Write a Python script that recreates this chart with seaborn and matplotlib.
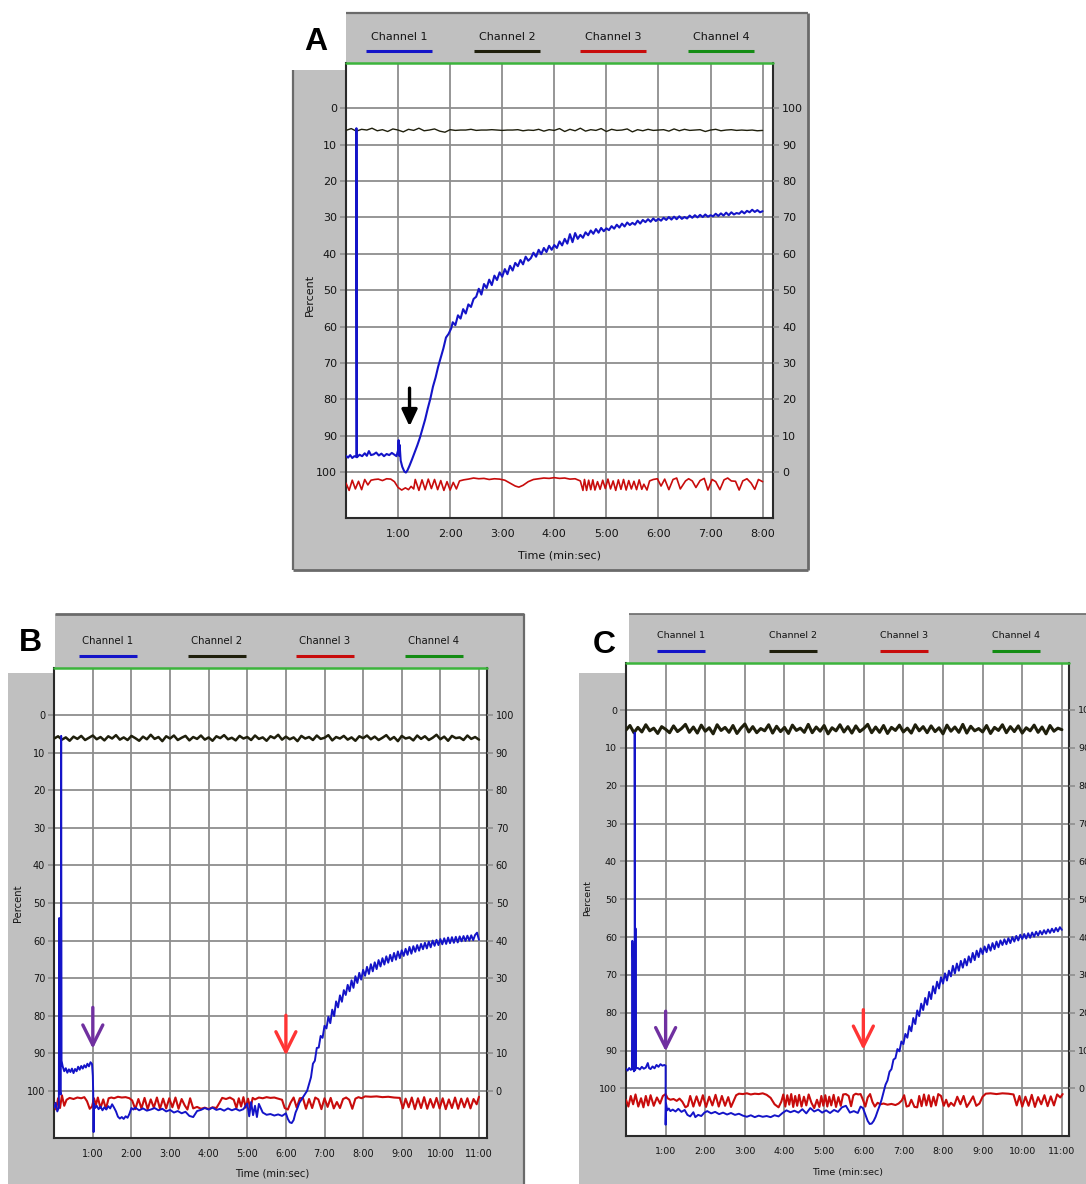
import numpy as np
import matplotlib
matplotlib.use("Agg")
import matplotlib.pyplot as plt
import seaborn as sns
from matplotlib.patches import Rectangle

# ---------------------------------------------------------------- data
CHANNELS = ["Channel 1", "Channel 2", "Channel 3", "Channel 4"]
PCT_TICKS = list(range(0, 101, 10))
Y_TOP, Y_BOTTOM = -12.5, 112.5

# ---- Panel A (8 min run)
A_ch1_start = [(0.00, 95.5), (0.04, 96.0), (0.08, 95.3), (0.12, 96.1), (0.16, 95.6), (0.20, 95.8),
               (0.20, 5.5), (0.21, 95.9), (0.26, 95.2), (0.31, 95.6), (0.36, 94.8), (0.40, 95.5),
               (0.44, 94.2), (0.48, 95.3), (0.53, 95.1), (0.58, 94.6), (0.63, 95.4), (0.68, 94.9),
               (0.73, 95.6), (0.78, 95.0), (0.83, 95.3), (0.88, 94.7), (0.93, 95.2), (0.97, 95.6),
               (1.00, 94.0), (1.01, 91.2), (1.02, 95.5), (1.03, 92.5), (1.05, 96.8), (1.08, 98.5),
               (1.12, 99.8), (1.15, 100.1), (1.18, 99.5), (1.22, 98.2), (1.27, 96.4), (1.32, 94.5),
               (1.37, 92.6), (1.42, 90.5), (1.47, 88.0), (1.52, 85.5), (1.57, 82.5), (1.62, 79.8),
               (1.67, 76.5), (1.72, 74.0), (1.77, 71.0), (1.82, 68.5), (1.87, 66.0), (1.92, 63.0),
               (1.97, 62.0), (2.02, 60.5)]
A_ch1_rise_start, A_ch1_rise_step = 2.05, 0.05
A_ch1_rise = [58.8, 59.6, 56.9, 57.8, 55.2, 56.4, 53.9, 54.6, 52.4, 51.8,
              49.6, 51.2, 48.3, 49.4, 47.1, 48.6, 46.0, 47.2, 45.1, 46.3,
              44.2, 45.6, 43.3, 44.6, 42.5, 43.4, 41.7, 42.9, 40.8, 41.9,
              41.2, 39.7, 40.8, 38.9, 40.1, 38.4, 39.5, 37.8, 38.9, 37.6,
              38.4, 36.6, 37.7, 35.9, 37.2, 34.6, 36.8, 34.3, 35.9, 34.8,
              35.6, 34.1, 34.9, 33.6, 34.5, 33.2, 34.2, 32.9, 33.8, 33.0,
              33.5, 32.4, 33.1, 32.0, 32.8, 31.7, 32.5, 31.4, 32.1, 31.5,
              32.0, 30.9, 31.7, 30.7, 31.3, 30.5, 31.2, 30.3, 31.0, 30.4,
              30.9, 30.1, 30.7, 29.9, 30.6, 29.8, 30.5, 29.7, 30.4, 29.9,
              30.3, 29.5, 30.1, 29.4, 30.0, 29.3, 29.9, 29.2, 29.8, 29.4,
              29.7, 29.0, 29.6, 28.9, 29.5, 28.7, 29.4, 28.6, 29.2, 28.8,
              29.0, 28.3, 28.9, 28.2, 28.6, 27.9, 28.5, 28.0, 28.6, 28.3]
A_ch2_step = 0.1
A_ch2 = [6.1, 5.6, 6.3, 5.8, 6.0, 5.5, 6.2, 5.9, 6.4, 5.7,
         6.0, 6.5, 5.8, 6.1, 5.5, 6.2, 6.0, 5.7, 6.3, 6.6,
         5.9, 6.1, 6.0, 6.0, 5.8, 6.1, 6.0, 6.0, 5.9, 6.0,
         6.1, 6.0, 6.0, 5.9, 6.2, 6.0, 6.1, 5.8, 6.3, 5.9,
         6.1, 5.6, 6.4, 5.8, 6.2, 5.5, 6.3, 5.9, 6.1, 5.6,
         6.4, 5.8, 6.1, 6.0, 5.7, 6.5, 5.9, 6.2, 5.8, 6.1,
         6.0, 5.9, 6.3, 5.7, 6.2, 5.8, 6.1, 6.0, 5.9, 6.4,
         6.0, 5.8, 6.2, 6.0, 5.9, 6.1, 6.0, 6.1, 6.0, 6.2, 6.1]
A_ch3 = [(0.00, 103.0), (0.06, 105.0), (0.12, 102.2), (0.18, 104.6), (0.24, 102.5), (0.30, 104.8),
         (0.36, 102.0), (0.42, 103.5), (0.48, 102.2), (0.55, 102.0), (0.62, 101.9), (0.70, 102.3),
         (0.78, 101.8), (0.86, 101.9), (0.93, 102.6), (1.00, 104.2), (1.07, 104.9), (1.14, 104.3),
         (1.20, 104.8), (1.25, 103.9), (1.30, 104.6), (1.33, 102.0), (1.40, 105.0), (1.46, 102.1),
         (1.52, 104.8), (1.58, 101.9), (1.64, 104.5), (1.70, 102.0), (1.76, 104.8), (1.82, 102.3),
         (1.88, 105.0), (1.94, 102.6), (2.00, 104.9), (2.06, 102.8), (2.12, 104.6), (2.18, 102.4),
         (2.26, 102.1), (2.35, 101.9), (2.45, 101.6), (2.55, 101.8), (2.65, 101.7), (2.75, 102.0),
         (2.85, 101.8), (2.95, 101.9), (3.05, 102.2), (3.15, 103.0), (3.25, 103.8), (3.32, 104.1),
         (3.40, 103.6), (3.50, 102.6), (3.60, 102.0), (3.70, 101.8), (3.80, 101.6), (3.90, 101.7),
         (4.00, 101.5), (4.10, 101.7), (4.20, 101.6), (4.30, 101.9), (4.40, 101.8), (4.50, 102.4),
         (4.55, 105.0), (4.58, 102.0), (4.62, 105.0), (4.66, 102.2), (4.70, 104.8), (4.74, 102.1),
         (4.78, 104.9), (4.83, 102.6), (4.88, 104.7), (4.93, 102.2), (4.98, 104.5), (5.03, 101.9),
         (5.08, 104.6), (5.13, 102.4), (5.18, 105.0), (5.23, 102.1), (5.28, 104.7), (5.33, 102.0),
         (5.38, 104.9), (5.43, 102.3), (5.48, 104.6), (5.53, 102.5), (5.58, 104.8), (5.63, 102.1),
         (5.68, 104.7), (5.72, 103.3), (5.78, 104.9), (5.83, 102.4), (5.90, 102.0), (5.98, 101.8),
         (6.05, 103.8), (6.12, 101.9), (6.20, 104.8), (6.28, 102.0), (6.35, 101.6), (6.42, 104.6),
         (6.52, 102.4), (6.58, 101.8), (6.65, 102.4), (6.72, 104.2), (6.80, 102.3), (6.88, 101.7),
         (6.95, 104.9), (7.03, 102.0), (7.10, 102.6), (7.18, 104.8), (7.26, 102.1), (7.33, 101.6),
         (7.40, 102.4), (7.48, 102.5), (7.55, 104.9), (7.62, 102.4), (7.70, 101.8), (7.78, 103.0),
         (7.85, 104.7), (7.92, 102.0), (8.00, 102.6)]

# ---- Panel B (11 min run)
B_ch1_start = [(0.00, 104.5), (0.04, 103.2), (0.08, 105.5), (0.12, 104.5), (0.13, 54.0), (0.14, 100.0),
               (0.17, 101.0), (0.18, 5.5), (0.19, 92.0), (0.22, 93.5), (0.26, 94.8), (0.30, 94.0),
               (0.34, 95.2), (0.38, 94.3), (0.42, 95.0), (0.46, 94.1), (0.50, 95.3), (0.54, 94.2),
               (0.58, 94.8), (0.62, 93.6), (0.66, 94.4), (0.70, 93.4), (0.74, 94.1), (0.78, 93.2),
               (0.82, 93.8), (0.86, 92.8), (0.90, 93.5), (0.94, 92.4), (0.98, 92.9), (1.00, 96.0),
               (1.01, 100.5), (1.02, 111.0), (1.03, 103.5), (1.06, 104.6), (1.10, 104.0), (1.15, 104.9),
               (1.20, 104.2), (1.25, 105.2), (1.30, 104.4), (1.35, 105.0), (1.40, 104.1), (1.45, 104.7),
               (1.50, 103.6), (1.55, 104.5), (1.60, 105.5), (1.65, 106.9), (1.70, 107.4), (1.75, 107.0),
               (1.80, 107.5), (1.85, 106.8), (1.90, 107.2), (1.95, 106.1), (2.00, 104.6), (2.05, 105.0),
               (2.10, 104.5), (2.20, 105.2), (2.30, 104.7), (2.40, 105.3), (2.50, 105.0), (2.60, 104.6),
               (2.70, 105.2), (2.80, 104.8), (2.90, 105.5), (3.00, 105.1), (3.10, 105.8), (3.20, 105.4),
               (3.30, 106.0), (3.40, 105.6), (3.50, 106.7), (3.60, 107.0), (3.70, 105.4), (3.80, 105.1),
               (3.90, 104.6), (4.00, 105.0), (4.10, 104.5), (4.20, 105.1), (4.30, 104.8), (4.40, 105.3),
               (4.50, 104.7), (4.60, 105.2), (4.70, 104.8), (4.80, 105.3), (4.90, 104.9), (5.00, 103.4),
               (5.05, 106.8), (5.10, 103.0), (5.15, 106.5), (5.20, 104.0), (5.25, 107.0), (5.30, 103.5),
               (5.40, 105.8), (5.50, 106.4), (5.60, 106.2), (5.70, 106.6), (5.80, 106.3), (5.90, 106.7),
               (6.00, 106.0), (6.05, 107.5), (6.10, 108.4), (6.15, 108.6), (6.20, 107.8), (6.25, 105.8),
               (6.30, 104.6), (6.35, 103.2), (6.40, 102.4), (6.45, 101.6), (6.50, 100.8), (6.55, 100.0)]
B_ch1_rise_start, B_ch1_rise_step = 6.60, 0.05
B_ch1_rise = [98.2, 96.4, 92.8, 92.0, 88.6, 88.5, 85.4, 85.9, 82.7, 83.4,
              80.3, 82.0, 78.4, 80.1, 76.2, 77.8, 74.6, 76.3, 73.2, 74.5,
              71.8, 73.5, 70.6, 72.6, 69.5, 71.3, 68.6, 70.4, 67.8, 69.4,
              67.0, 68.9, 66.3, 68.2, 65.8, 67.6, 65.2, 66.9, 64.7, 66.4,
              64.2, 65.9, 63.8, 65.5, 63.3, 65.1, 62.9, 64.7, 62.6, 64.1,
              62.2, 63.8, 61.7, 63.5, 61.5, 63.0, 61.2, 62.7, 60.9, 62.3,
              60.6, 62.1, 60.3, 61.8, 60.0, 61.4, 59.8, 61.2, 59.6, 61.0,
              59.4, 60.9, 59.2, 60.7, 59.1, 60.6, 59.0, 60.5, 58.9, 60.2,
              58.8, 60.1, 58.7, 60.0, 58.6, 59.9, 58.5, 57.9, 59.8]
B_ch2_step = 0.1
B_ch2 = [6.2, 5.6, 6.5, 5.9, 6.8, 5.7, 6.3, 5.5, 6.6, 6.0,
         5.4, 6.4, 5.8, 6.7, 5.6, 6.2, 5.3, 6.5, 5.9, 6.6,
         5.5, 6.1, 6.8, 5.7, 6.4, 5.2, 6.3, 5.8, 6.9, 5.6,
         6.2, 5.4, 6.6, 6.0, 5.5, 6.7, 5.8, 6.3, 5.4, 6.5,
         5.9, 6.8, 5.6, 6.1, 5.3, 6.4, 6.0, 6.7, 5.5, 6.2,
         5.8, 6.6, 5.4, 6.3, 5.9, 6.8, 5.6, 6.1, 5.2, 6.5,
         5.7, 6.4, 5.9, 6.9, 5.5, 6.2, 5.8, 6.6, 5.4, 6.3,
         6.0, 5.3, 6.7, 5.8, 6.2, 5.5, 6.5, 5.9, 6.8, 5.6,
         6.1, 5.4, 6.4, 5.7, 6.6, 6.0, 5.3, 6.5, 5.8, 6.9,
         5.5, 6.2, 5.9, 6.7, 5.4, 6.3, 5.6, 6.6, 6.0, 5.2,
         6.4, 5.7, 6.8, 5.5, 6.1, 5.9, 6.6, 5.4, 6.3, 5.8, 6.5]
B_ch3 = [(0.00, 103.5), (0.05, 105.0), (0.10, 102.0), (0.15, 104.6), (0.20, 101.2), (0.26, 104.0),
         (0.32, 102.4), (0.40, 101.9), (0.50, 102.2), (0.60, 101.8), (0.70, 102.0), (0.78, 101.7),
         (0.85, 102.8), (0.92, 104.8), (0.98, 104.2), (1.03, 102.0), (1.08, 103.8), (1.13, 101.8),
         (1.20, 104.6), (1.27, 102.3), (1.34, 104.8), (1.41, 102.0), (1.48, 101.8), (1.55, 102.0),
         (1.65, 101.6), (1.75, 101.8), (1.85, 101.7), (1.95, 102.0), (2.02, 102.6), (2.10, 104.9),
         (2.18, 102.2), (2.26, 104.7), (2.34, 101.9), (2.42, 104.9), (2.50, 102.3), (2.58, 104.5),
         (2.66, 101.8), (2.74, 104.8), (2.82, 102.1), (2.90, 104.7), (2.98, 102.0), (3.06, 104.4),
         (3.14, 101.8), (3.22, 104.8), (3.30, 102.2), (3.38, 103.9), (3.45, 105.0), (3.52, 102.0),
         (3.60, 104.7), (3.70, 104.3), (3.80, 104.8), (3.90, 104.5), (4.00, 104.9), (4.10, 104.4),
         (4.20, 104.6), (4.28, 103.2), (4.35, 101.9), (4.45, 102.2), (4.55, 101.8), (4.65, 102.4),
         (4.72, 104.6), (4.78, 102.0), (4.84, 104.2), (4.90, 101.7), (4.96, 104.5), (5.02, 102.1),
         (5.08, 104.8), (5.14, 101.9), (5.20, 102.3), (5.30, 101.8), (5.40, 102.0), (5.50, 101.7),
         (5.60, 101.9), (5.70, 101.8), (5.80, 102.1), (5.90, 102.4), (5.97, 104.6), (6.05, 105.0),
         (6.12, 103.2), (6.20, 101.8), (6.28, 104.5), (6.36, 102.0), (6.44, 101.9), (6.52, 104.8),
         (6.60, 102.2), (6.68, 104.6), (6.76, 101.8), (6.84, 102.3), (6.92, 104.9), (7.00, 102.0),
         (7.08, 104.3), (7.16, 101.9), (7.24, 104.7), (7.32, 103.0), (7.40, 104.6), (7.48, 102.2),
         (7.56, 101.8), (7.64, 102.4), (7.72, 104.8), (7.80, 102.1), (7.88, 101.7), (7.96, 102.0),
         (8.05, 101.5), (8.20, 101.6), (8.35, 101.5), (8.50, 101.7), (8.65, 101.6), (8.80, 101.8),
         (8.95, 101.9), (9.03, 104.7), (9.10, 102.1), (9.18, 104.4), (9.26, 101.8), (9.34, 104.9),
         (9.42, 102.0), (9.50, 104.6), (9.58, 101.7), (9.66, 104.8), (9.74, 102.2), (9.82, 104.5),
         (9.90, 101.9), (9.98, 104.7), (10.06, 102.0), (10.14, 104.9), (10.22, 102.3), (10.30, 104.6),
         (10.38, 101.8), (10.46, 104.8), (10.54, 102.1), (10.62, 104.4), (10.70, 102.0), (10.78, 104.7),
         (10.86, 102.2), (10.94, 103.6), (11.00, 101.6)]

# ---- Panel C (11 min run)
C_ch1_start = [(0.00, 94.8), (0.04, 95.3), (0.08, 94.6), (0.12, 95.1), (0.15, 94.9), (0.16, 61.0),
               (0.17, 66.0), (0.18, 95.0), (0.19, 62.0), (0.20, 95.5), (0.22, 95.0), (0.22, 6.0),
               (0.23, 95.2), (0.24, 57.7), (0.25, 94.7), (0.30, 94.6), (0.35, 95.0), (0.40, 94.3),
               (0.45, 94.8), (0.50, 94.5), (0.55, 93.3), (0.58, 94.6), (0.62, 94.9), (0.67, 94.2),
               (0.72, 94.7), (0.77, 93.8), (0.82, 94.3), (0.87, 93.6), (0.92, 94.0), (0.97, 93.8),
               (1.00, 94.0), (1.00, 109.6), (1.01, 104.0), (1.04, 105.8), (1.08, 105.3), (1.12, 106.0),
               (1.18, 105.6), (1.25, 106.1), (1.32, 105.4), (1.40, 106.2), (1.48, 105.7), (1.55, 107.0),
               (1.62, 107.4), (1.70, 106.3), (1.75, 107.6), (1.82, 107.0), (1.90, 107.3), (1.98, 106.4),
               (2.05, 106.0), (2.15, 106.6), (2.25, 106.2), (2.35, 106.8), (2.45, 106.4), (2.55, 106.9),
               (2.65, 106.5), (2.75, 107.0), (2.85, 106.7), (2.95, 107.2), (3.05, 107.5), (3.15, 107.1),
               (3.25, 107.6), (3.35, 107.2), (3.45, 107.5), (3.55, 107.3), (3.65, 107.6), (3.75, 107.1),
               (3.85, 107.4), (3.95, 106.5), (4.05, 105.8), (4.15, 106.3), (4.25, 105.9), (4.35, 106.4),
               (4.45, 105.5), (4.55, 106.6), (4.65, 105.2), (4.75, 106.1), (4.85, 105.6), (4.95, 106.4),
               (5.05, 105.8), (5.15, 106.5), (5.25, 105.7), (5.35, 106.2), (5.45, 105.0), (5.55, 104.6),
               (5.65, 106.4), (5.75, 106.0), (5.85, 106.5), (5.92, 104.8), (5.98, 105.2), (6.05, 107.2),
               (6.10, 108.6), (6.15, 109.4), (6.20, 109.3), (6.25, 108.6), (6.30, 107.5), (6.35, 106.0),
               (6.40, 104.6), (6.45, 103.0), (6.50, 101.0)]
C_ch1_rise_start, C_ch1_rise_step = 6.55, 0.05
C_ch1_rise = [99.0, 97.9, 95.6, 94.9, 92.4, 92.0, 89.6, 90.2, 87.6, 88.3,
              85.6, 86.6, 83.5, 84.9, 81.4, 83.0, 79.4, 80.9, 77.6, 79.3,
              76.1, 77.9, 74.5, 76.4, 73.0, 74.9, 71.8, 73.6, 70.6, 72.3,
              69.6, 71.5, 68.9, 70.4, 67.6, 69.6, 67.0, 68.9, 66.3, 68.1,
              65.8, 67.5, 65.1, 66.7, 64.2, 66.1, 63.6, 65.3, 63.0, 64.5,
              62.5, 64.0, 62.0, 63.6, 61.6, 63.2, 61.2, 62.7, 60.9, 62.1,
              60.6, 61.9, 60.3, 61.6, 60.0, 61.2, 59.7, 60.9, 59.4, 60.5,
              59.2, 60.4, 59.0, 60.2, 58.8, 59.9, 58.6, 59.6, 58.4, 59.3,
              58.2, 59.1, 58.0, 58.9, 57.8, 58.7, 57.6, 58.5, 57.4, 58.1]
C_ch2_step = 0.1
C_ch2 = [5.3, 4.1, 6.0, 4.6, 5.8, 3.9, 5.5, 4.8, 6.2, 4.4,
         5.1, 6.0, 4.2, 5.7, 4.9, 3.8, 5.9, 4.5, 6.1, 4.0,
         5.6, 4.7, 6.3, 3.9, 5.4, 4.6, 5.9, 4.1, 6.2, 4.8,
         3.7, 5.8, 4.4, 6.0, 4.9, 5.5, 3.9, 6.1, 4.3, 5.7,
         4.6, 6.2, 4.0, 5.4, 4.8, 5.9, 3.8, 6.0, 4.5, 5.6,
         4.1, 6.3, 4.7, 5.5, 3.9, 5.8, 4.4, 6.1, 4.2, 5.7,
         4.9, 3.8, 6.0, 4.5, 5.9, 4.1, 6.2, 4.6, 5.4, 4.0,
         5.8, 4.8, 6.1, 3.9, 5.5, 4.4, 6.0, 4.2, 5.7, 4.7,
         6.3, 4.0, 5.6, 4.5, 5.9, 3.8, 6.1, 4.3, 5.5, 4.9,
         5.8, 4.1, 6.2, 4.6, 5.4, 3.9, 6.0, 4.4, 5.7, 4.2,
         6.1, 4.7, 5.5, 4.0, 5.9, 4.5, 6.3, 4.1, 5.6, 4.8, 5.2]
C_ch3 = [(0.00, 103.0), (0.06, 104.8), (0.12, 102.0), (0.18, 104.2), (0.24, 101.6), (0.31, 104.8),
         (0.38, 102.6), (0.44, 105.0), (0.50, 102.0), (0.56, 104.5), (0.62, 101.8), (0.70, 104.6),
         (0.78, 102.4), (0.86, 104.0), (0.93, 102.0), (1.00, 101.5), (1.05, 102.6), (1.12, 103.0),
         (1.20, 102.8), (1.28, 103.3), (1.35, 102.7), (1.42, 103.5), (1.50, 105.0), (1.56, 104.6),
         (1.62, 102.0), (1.70, 104.8), (1.78, 102.1), (1.86, 104.6), (1.94, 101.8), (2.02, 104.9),
         (2.10, 102.2), (2.18, 104.5), (2.26, 101.7), (2.34, 104.8), (2.42, 102.0), (2.50, 104.6),
         (2.58, 102.3), (2.65, 104.9), (2.72, 103.2), (2.78, 101.8), (2.85, 101.4), (2.95, 101.5),
         (3.05, 101.3), (3.15, 101.6), (3.25, 101.4), (3.35, 101.5), (3.45, 101.3), (3.55, 101.7),
         (3.65, 102.5), (3.75, 104.2), (3.85, 105.0), (3.92, 103.5), (3.97, 101.6), (4.02, 104.8),
         (4.07, 101.8), (4.12, 104.3), (4.17, 101.5), (4.22, 104.9), (4.27, 102.0), (4.32, 104.6),
         (4.37, 101.7), (4.43, 104.8), (4.49, 102.2), (4.55, 104.5), (4.61, 101.6), (4.68, 103.8),
         (4.75, 105.2), (4.82, 103.0), (4.88, 104.9), (4.93, 102.0), (4.98, 104.6), (5.03, 101.8),
         (5.08, 104.8), (5.13, 102.2), (5.18, 104.5), (5.24, 101.7), (5.30, 104.9), (5.36, 102.3),
         (5.42, 104.6), (5.48, 101.6), (5.55, 101.5), (5.62, 102.0), (5.68, 104.7), (5.74, 101.8),
         (5.80, 101.4), (5.86, 101.6), (5.92, 101.5), (5.98, 103.0), (6.04, 104.8), (6.10, 102.4),
         (6.16, 101.5), (6.22, 103.6), (6.28, 104.8), (6.35, 103.8), (6.42, 104.2), (6.50, 104.0),
         (6.60, 104.3), (6.70, 104.1), (6.80, 104.4), (6.88, 104.0), (6.96, 103.2), (7.02, 101.8),
         (7.08, 104.8), (7.14, 104.6), (7.20, 103.0), (7.28, 104.9), (7.35, 105.0), (7.40, 102.0),
         (7.46, 104.7), (7.52, 101.6), (7.58, 104.5), (7.64, 101.8), (7.70, 104.8), (7.76, 102.2),
         (7.82, 104.5), (7.88, 101.5), (7.95, 102.0), (8.02, 104.6), (8.08, 103.0), (8.14, 104.8),
         (8.20, 103.8), (8.28, 104.6), (8.36, 102.2), (8.44, 104.2), (8.52, 102.0), (8.60, 104.9),
         (8.68, 103.6), (8.76, 102.1), (8.84, 104.6), (8.92, 104.0), (9.00, 102.2), (9.08, 101.4),
         (9.20, 101.3), (9.35, 101.5), (9.50, 101.3), (9.65, 101.4), (9.78, 101.6), (9.86, 104.5),
         (9.93, 102.0), (10.00, 104.8), (10.08, 102.2), (10.16, 104.6), (10.24, 101.7), (10.32, 104.9),
         (10.40, 102.3), (10.48, 104.2), (10.56, 101.8), (10.64, 104.7), (10.72, 102.1), (10.80, 104.5),
         (10.88, 101.6), (10.96, 102.4), (11.02, 101.5)]

# Event markers: (time, tail value, tip value)
A_marker = (1.22, 76.9, 87.4)
B_markers = [(1.00, 77.8, 88.8, "purple"), (6.00, 79.9, 90.6, "red")]
C_markers = [(1.00, 79.6, 90.2, "purple"), (5.99, 79.2, 89.8, "red")]

# ---------------------------------------------------------------- style
BLUE, BLACK, RED, GREEN = "#1414c8", "#1f1f0c", "#c80c0c", "#148c14"
TOP_GREEN = "#3cb43c"
PANEL_GRAY, BORDER = "#c0c0c0", "#6a6a6a"
GRID, SPINE, TXT = "#8e8e8e", "#2a2a2a", "#141414"
MARK_COLORS = {"purple": "#7030a0", "red": "#ff3434"}

sns.set_style("white")
plt.rcParams["font.family"] = ["DejaVu Sans"]

W, H = 1086, 1184
fig = plt.figure(figsize=(W / 100, H / 100), dpi=100)
fig.patch.set_facecolor("white")

bg = fig.add_axes([0, 0, 1, 1], zorder=0)
bg.set_xlim(0, W)
bg.set_ylim(H, 0)
bg.axis("off")


def gray_box(x0, y0, x1, y1):
    bg.add_patch(Rectangle((x0, y0), x1 - x0, y1 - y0, facecolor=PANEL_GRAY,
                           edgecolor="none", zorder=1))


def border(xs, ys, lw=1.6):
    bg.plot(xs, ys, color=BORDER, lw=lw, zorder=2, solid_capstyle="butt")


def series(pairs):
    t = np.array([p[0] for p in pairs])
    v = np.array([p[1] for p in pairs])
    return t, v


def uniform(values, start, step):
    v = np.array(values)
    return start + step * np.arange(len(v)), v


def draw_trace(ax, t, v, color, lw, z=3):
    sns.lineplot(x=t, y=v, ax=ax, color=color, linewidth=lw, sort=False,
                 estimator=None, legend=False, zorder=z)


def legend_bar(centers, y_text, y_line, half, fs):
    colors = [BLUE, BLACK, RED, GREEN]
    for name, cx, col in zip(CHANNELS, centers, colors):
        bg.text(cx, y_text, name, ha="center", va="center", fontsize=fs, color=TXT, zorder=3)
        bg.plot([cx - half, cx + half], [y_line, y_line], color=col, lw=2.2, zorder=3,
                solid_capstyle="butt")


def make_panel(l, t, r, b):
    ax = fig.add_axes([l / W, 1 - b / H, (r - l) / W, (b - t) / H], zorder=2)
    ax.set_facecolor("white")
    return ax


def finish_panel(ax, xmax, n_min, fs):
    ax.set_xlim(0, xmax)
    ax.set_ylim(Y_BOTTOM, Y_TOP)
    ax.set_yticks(PCT_TICKS)
    ax.set_yticklabels([str(v) for v in PCT_TICKS])
    minutes = list(range(1, n_min + 1))
    ax.set_xticks(minutes)
    ax.set_xticklabels([f"{m}:00" for m in minutes])
    ax.set_xlabel("")
    ax.set_ylabel("")
    ax.grid(True, color=GRID, lw=1.3)
    ax.set_axisbelow(True)
    ax.tick_params(axis="both", length=4, width=1.2, color=GRID, labelsize=fs,
                   labelcolor=TXT, pad=2.5)
    ax.tick_params(axis="x", pad=4)
    ax.spines["top"].set_visible(False)
    for s in ("left", "bottom", "right"):
        ax.spines[s].set_color(SPINE)
        ax.spines[s].set_linewidth(1.5)
    # Channel 4 sits pinned at the top of the scale
    sns.lineplot(x=[0, xmax], y=[Y_TOP, Y_TOP], ax=ax, color=TOP_GREEN, linewidth=1.8,
                 legend=False, clip_on=False, zorder=4)
    ax.set_xlim(0, xmax)
    ax.set_ylim(Y_BOTTOM, Y_TOP)
    ax2 = ax.twinx()
    ax2.set_zorder(3)
    ax2.set_ylim(100 - Y_BOTTOM, 100 - Y_TOP)
    ax2.set_yticks(PCT_TICKS)
    ax2.set_yticklabels([str(v) for v in PCT_TICKS])
    ax2.grid(False)
    for s in ax2.spines.values():
        s.set_visible(False)
    ax2.tick_params(axis="y", length=4, width=1.2, color=GRID, labelsize=fs,
                    labelcolor=TXT, pad=2.5)


def arrow(ax, x, y0, y1, color, style, lw, scale):
    ax.annotate("", xy=(x, y1), xytext=(x, y0),
                arrowprops=dict(arrowstyle=style, color=color, lw=lw, shrinkA=0, shrinkB=0,
                                mutation_scale=scale), zorder=6)


# ================================================================ Panel A
gray_box(346, 13, 808, 570)
gray_box(293, 70, 346, 570)
border([346, 808], [13, 13])
border([808, 808], [13, 570], lw=2.0)
border([293, 808], [570, 570], lw=2.0)
border([293, 293], [70, 570])
bg.text(316, 42, "A", ha="center", va="center", fontsize=23, fontweight="bold",
        family="Liberation Sans", color="black", zorder=3)
legend_bar([399, 507, 613, 721], 37, 51, 33, 8)

axA = make_panel(346, 62.7, 773, 517.7)
t, v = uniform(A_ch2, 0.0, A_ch2_step)
draw_trace(axA, t, v, BLACK, 1.0)
t, v = series(A_ch3)
draw_trace(axA, t, v, RED, 1.2)
t1, v1 = series(A_ch1_start)
t2, v2 = uniform(A_ch1_rise, A_ch1_rise_start, A_ch1_rise_step)
draw_trace(axA, np.r_[t1, t2], np.r_[v1, v2], BLUE, 1.5)
finish_panel(axA, 8.2, 8, 8)
arrow(axA, A_marker[0], A_marker[1], A_marker[2], "black",
      "-|>,head_length=1.0,head_width=0.47", 2.4, 10)
bg.text(560, 555, "Time (min:sec)", ha="center", va="center", fontsize=8, color=TXT, zorder=3)
bg.text(310, 295, "Percent", ha="center", va="center", rotation=90, fontsize=8,
        color=TXT, zorder=3)

# ================================================================ Panel B
gray_box(55, 614, 524, H)
gray_box(8, 673, 55, H)
border([55, 524], [614, 614], lw=2.0)
border([524, 524], [614, H])
bg.text(30, 643, "B", ha="center", va="center", fontsize=23, fontweight="bold",
        family="Liberation Sans", color="black", zorder=3)
legend_bar([108, 217, 325, 434], 641, 656, 29, 7.3)

axB = make_panel(54.2, 668.3, 486.7, 1137.7)
t, v = uniform(B_ch2, 0.0, B_ch2_step)
draw_trace(axB, t, v, BLACK, 1.8)
t, v = series(B_ch3)
draw_trace(axB, t, v, RED, 1.5)
t1, v1 = series(B_ch1_start)
t2, v2 = uniform(B_ch1_rise, B_ch1_rise_start, B_ch1_rise_step)
draw_trace(axB, np.r_[t1, t2], np.r_[v1, v2], BLUE, 1.4)
finish_panel(axB, 11.2, 11, 7)
for x, y0, y1, c in B_markers:
    arrow(axB, x, y0, y1, MARK_COLORS[c], "->,head_length=1.2,head_width=0.6", 2.4, 12)
bg.text(272, 1174, "Time (min:sec)", ha="center", va="center", fontsize=7.2, color=TXT, zorder=3)
bg.text(18, 903, "Percent", ha="center", va="center", rotation=90, fontsize=7.2,
        color=TXT, zorder=3)

# ================================================================ Panel C
gray_box(629, 614, W, H)
gray_box(579, 673, 629, H)
border([629, W], [614, 614], lw=1.2)
bg.text(604, 645, "C", ha="center", va="center", fontsize=23, fontweight="bold",
        family="Liberation Sans", color="black", zorder=3)
legend_bar([681, 793, 904, 1016], 635, 651, 24, 6.8)

axC = make_panel(626, 662.7, 1069, 1135.7)
t, v = uniform(C_ch2, 0.0, C_ch2_step)
draw_trace(axC, t, v, BLACK, 2.2)
t, v = series(C_ch3)
draw_trace(axC, t, v, RED, 1.5)
t1, v1 = series(C_ch1_start)
t2, v2 = uniform(C_ch1_rise, C_ch1_rise_start, C_ch1_rise_step)
draw_trace(axC, np.r_[t1, t2], np.r_[v1, v2], BLUE, 1.4)
finish_panel(axC, 11.18, 11, 6.8)
for x, y0, y1, c in C_markers:
    arrow(axC, x, y0, y1, MARK_COLORS[c], "->,head_length=1.2,head_width=0.6", 2.4, 12)
bg.text(848, 1173, "Time (min:sec)", ha="center", va="center", fontsize=6.8, color=TXT, zorder=3)
bg.text(588, 898, "Percent", ha="center", va="center", rotation=90, fontsize=6.8,
        color=TXT, zorder=3)

fig.savefig("out.png", dpi=100, facecolor="white")
